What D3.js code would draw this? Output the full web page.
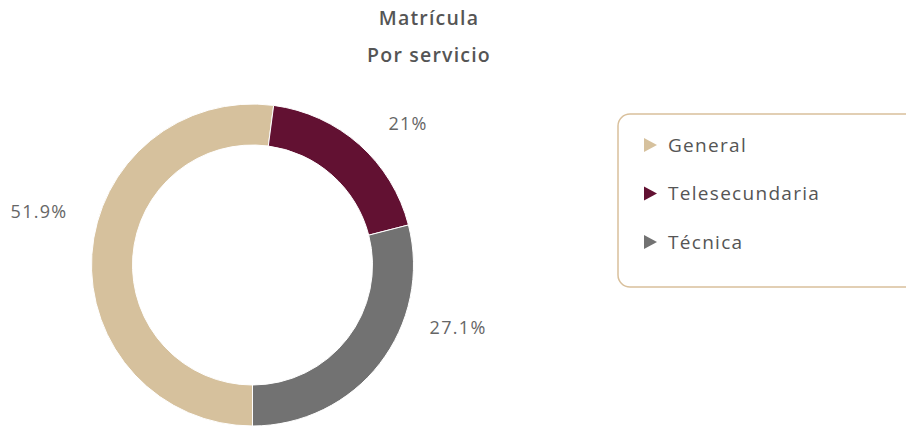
<!DOCTYPE html>
<html>
<head>
<meta charset="utf-8">
<script src="https://cdn.jsdelivr.net/npm/d3@7"></script>
<style>
  html, body { margin: 0; padding: 0; background: #fff; }
  svg { display: block; font-family: "Open Sans", "Noto Sans", sans-serif; }
</style>
</head>
<body>
<div id="chart"></div>
<script>
// ---- data ----
const categories = ["General", "Telesecundaria", "Técnica"];
const values = [52.1, 18.9, 29.0];
// percentage labels as printed in the picture
const valueLabels = ["51.9%", "21%", "27.1%"];
const titleLines = ["Matrícula", "Por servicio"];

// ---- layout / style ----
const W = 906, H = 430;
const colors = ["#D6C19D", "#621132", "#727272"];
const cx = 252.5, cy = 265, outerR = 161, innerR = 120;
// label placement: polar angle (deg, clockwise from top) and distance from centre
const labelPolar = [[284, 220], [47.8, 210], [107, 215]];

const svg = d3.select("#chart").append("svg")
  .attr("width", W).attr("height", H);

svg.selectAll("text.title").data(titleLines).join("text")
  .attr("class", "title")
  .attr("x", 429).attr("y", (d, i) => 25 + i * 37)
  .attr("text-anchor", "middle")
  .attr("font-size", 19.5).attr("font-weight", 600)
  .attr("letter-spacing", 1.2)
  .attr("fill", "#555")
  .text(d => d);

const pie = d3.pie().sort(null).value(d => d)
  .startAngle(Math.PI).endAngle(3 * Math.PI);
const arcs = pie(values);
const arc = d3.arc().innerRadius(innerR).outerRadius(outerR);

const g = svg.append("g").attr("transform", `translate(${cx},${cy})`);
g.selectAll("path").data(arcs).join("path")
  .attr("d", arc)
  .attr("fill", (d, i) => colors[i])
  .attr("stroke", "#fff").attr("stroke-width", 1);

g.selectAll("text.lbl").data(arcs).join("text")
  .attr("class", "lbl")
  .attr("x", (d, i) => Math.sin(labelPolar[i][0] * Math.PI / 180) * labelPolar[i][1])
  .attr("y", (d, i) => -Math.cos(labelPolar[i][0] * Math.PI / 180) * labelPolar[i][1])
  .attr("dy", "0.35em")
  .attr("text-anchor", "middle")
  .attr("font-size", 18).attr("letter-spacing", 1.3)
  .attr("fill", "#666")
  .text((d, i) => valueLabels[i]);

// legend
const lg = svg.append("g").attr("transform", "translate(618,114)");
lg.append("rect")
  .attr("x", 0).attr("y", 0).attr("width", 300).attr("height", 173)
  .attr("rx", 12).attr("ry", 12)
  .attr("fill", "none").attr("stroke", "#D9C09C").attr("stroke-width", 1.5);

const item = lg.selectAll("g.item").data(categories).join("g")
  .attr("class", "item")
  .attr("transform", (d, i) => `translate(26,${31 + i * 48.5})`);
item.append("path")
  .attr("d", "M0,-7 L13,0 L0,7 Z")
  .attr("fill", (d, i) => colors[i]);
item.append("text")
  .attr("x", 24).attr("dy", "0.35em")
  .attr("font-size", 19).attr("letter-spacing", 1.3)
  .attr("fill", "#555")
  .text(d => d);
</script>
</body>
</html>
